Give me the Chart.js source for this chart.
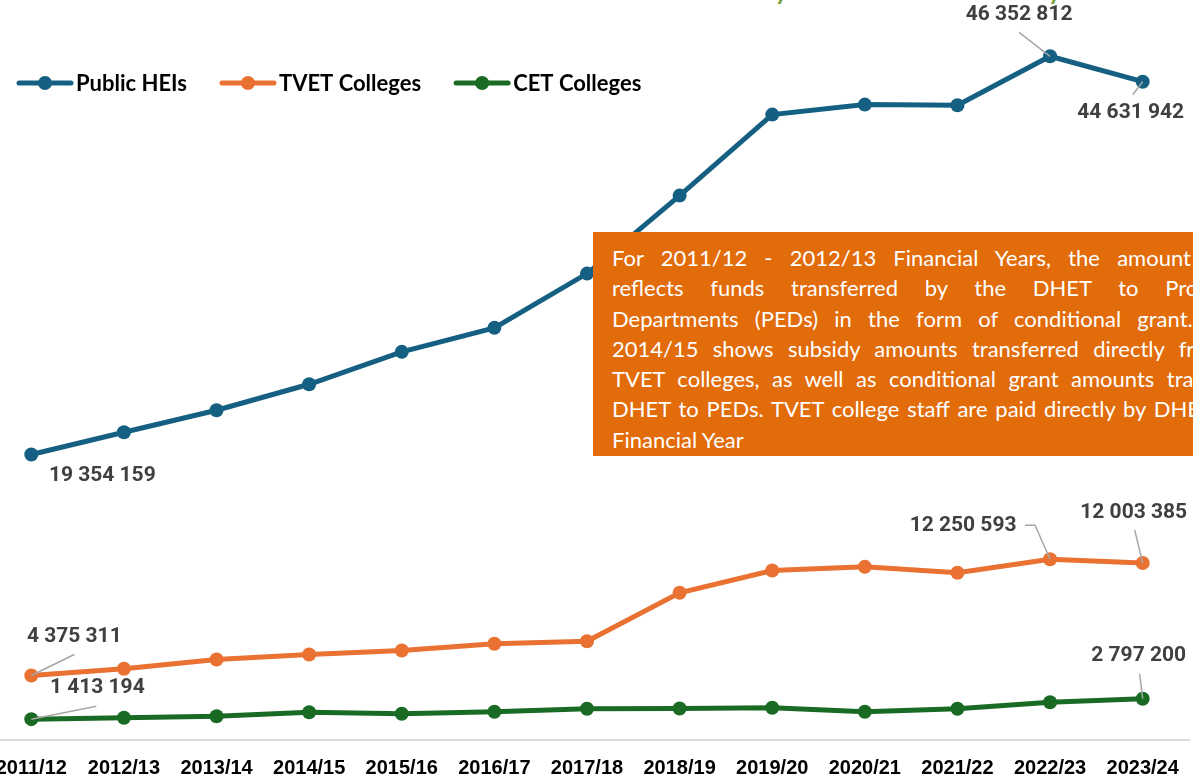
<!DOCTYPE html>
<html lang="en">
<head>
<meta charset="UTF-8">
<title>DHET transfers by financial year</title>
<script src="https://cdn.jsdelivr.net/npm/chart.js"></script>
<style>
  html, body { margin: 0; padding: 0; background: #fff; }
  body { width: 1193px; height: 780px; overflow: hidden; position: relative; }
  #wrap { position: absolute; left: -40px; top: 0; width: 1240px; height: 780px; }
  .title {
    position: absolute; top: -25px; left: 701px; white-space: nowrap;
    font: 700 25.2px Lato, sans-serif; color: #77A33B;
  }
  .note {
    position: absolute; left: 593px; top: 232px; width: 758px; height: 224px;
    box-sizing: border-box; padding: 11px 19px;
    background: #E26B0A; color: #fff; font: 22px/30.3px Lato, sans-serif;
  }
  .note span { display: block; text-align: justify; text-align-last: justify; }
  .note span.last { text-align-last: left; }
  .note span i { font-style: normal; letter-spacing: -5.5px; }
</style>
</head>
<body>
<div class="title">Subsidy Amounts Transferred by Sector</div>
<div id="wrap"><canvas id="chart" width="1240" height="780"></canvas></div>
<div class="note">
  <span>For 2011/12 - 2012/13 Financial Years, the amount shown here</span>
  <span>reflects funds transferred by the DHET to Provincial <i>Education</i></span>
  <span>Departments (PEDs) in the form of conditional grant. 2013/14 to</span>
  <span>2014/15 shows subsidy amounts transferred directly from DHET to</span>
  <span>TVET colleges, as well as conditional grant amounts transferred from</span>
  <span>DHET to PEDs. TVET college staff are paid directly by DHET in 2015/16</span>
  <span class="last">Financial Year</span>
</div>
<script>
const years = ["2011/12", "2012/13", "2013/14", "2014/15", "2015/16", "2016/17", "2017/18",
               "2018/19", "2019/20", "2020/21", "2021/22", "2022/23", "2023/24"];
const publicHEIs = [19354159, 20864000, 22355000, 24118000, 26314000, 27941000, 31622000,
                    36909000, 42399000, 43077000, 43030000, 46352812, 44631942];
const tvetColleges = [4375311, 4826000, 5457000, 5796000, 6067000, 6521000, 6697000,
                      9978000, 11490000, 11740000, 11334000, 12250593, 12003385];
const cetColleges = [1413194, 1505000, 1613000, 1884000, 1776000, 1912000, 2115000,
                     2135000, 2183000, 1912000, 2115000, 2562000, 2797200];

const fmt = v => Math.round(v).toLocaleString('en-US').replace(/,/g, ' ');

// value callouts: offset of label centre from the point, optional leader line
const callouts = [
  { ds: 0, i: 0,  dx: 71,  dy: 21 },
  { ds: 0, i: 11, dx: -31, dy: -42, lead: [[-31, -24]] },
  { ds: 0, i: 12, dx: -12, dy: 31,  lead: [[-10, 13]] },
  { ds: 1, i: 0,  dx: 43,  dy: -39, lead: [[43, -21]] },
  { ds: 1, i: 11, dx: -87, dy: -34, lead: [[-25, -34], [-15, -34]] },
  { ds: 1, i: 12, dx: -9,  dy: -50, lead: [[-8, -33]] },
  { ds: 2, i: 0,  dx: 66,  dy: -31, lead: [[65, -13]] },
  { ds: 2, i: 12, dx: -4,  dy: -43, lead: [[-3, -25]] }
];

const valueLabels = {
  id: 'valueLabels',
  afterDatasetsDraw(chart) {
    const ctx = chart.ctx;
    ctx.save();
    callouts.forEach(c => {
      const pt = chart.getDatasetMeta(c.ds).data[c.i];
      if (c.lead) {
        ctx.strokeStyle = '#A6A6A6';
        ctx.lineWidth = 1.5;
        ctx.beginPath();
        c.lead.forEach((o, k) => k ? ctx.lineTo(pt.x + o[0], pt.y + o[1]) : ctx.moveTo(pt.x + o[0], pt.y + o[1]));
        ctx.lineTo(pt.x, pt.y);
        ctx.stroke();
      }
      ctx.fillStyle = '#404040';
      ctx.font = '700 21px Roboto';
      ctx.textAlign = 'center';
      ctx.textBaseline = 'middle';
      ctx.fillText(fmt(chart.data.datasets[c.ds].data[c.i]), pt.x + c.dx, pt.y + c.dy);
    });
    ctx.restore();
  }
};

// legend: line with a dot, then the series name
const lineLegend = {
  id: 'lineLegend',
  afterDraw(chart) {
    const ctx = chart.ctx;
    let x = 57;
    const y = 83;
    ctx.save();
    ctx.font = '700 22px Lato';
    ctx.textBaseline = 'middle';
    ctx.textAlign = 'left';
    chart.data.datasets.forEach(ds => {
      ctx.strokeStyle = ds.borderColor;
      ctx.lineWidth = 5;
      ctx.lineCap = 'round';
      ctx.beginPath();
      ctx.moveTo(x + 2, y);
      ctx.lineTo(x + 54, y);
      ctx.stroke();
      ctx.fillStyle = ds.borderColor;
      ctx.beginPath();
      ctx.arc(x + 28, y, 7, 0, Math.PI * 2);
      ctx.fill();
      ctx.fillStyle = '#000';
      ctx.fillText(ds.label, x + 59, y + 1);
      x += 59 + ctx.measureText(ds.label).width + 33;
    });
    ctx.restore();
  }
};

function series(label, data, color) {
  return {
    label, data,
    borderColor: color, backgroundColor: color,
    borderWidth: 5, pointRadius: 7, pointBorderWidth: 0,
    pointBackgroundColor: color, tension: 0
  };
}

new Chart(document.getElementById('chart'), {
  type: 'line',
  data: {
    labels: years,
    datasets: [
      series('Public HEIs', publicHEIs, '#156082'),
      series('TVET Colleges', tvetColleges, '#E97132'),
      series('CET Colleges', cetColleges, '#196B24')
    ]
  },
  options: {
    responsive: false,
    animation: false,
    devicePixelRatio: 1,
    layout: { padding: { left: 25, right: 11, top: 32, bottom: 0 } },
    plugins: { legend: { display: false }, tooltip: { enabled: false } },
    scales: {
      x: {
        offset: true,
        grid: { display: false, drawTicks: false },
        border: { display: true, color: '#D9D9D9', width: 2 },
        ticks: {
          color: '#000', padding: 16, maxRotation: 0, autoSkip: false,
          font: { family: 'Liberation Sans', weight: 'bold', size: 20 }
        },
        afterFit(scale) {
          scale.height = 40;
          scale.paddingLeft = 0;
          scale.paddingRight = 0;
        }
      },
      y: { display: false, min: 0, max: 48000000 }
    }
  },
  plugins: [valueLabels, lineLegend]
});
</script>
</body>
</html>
